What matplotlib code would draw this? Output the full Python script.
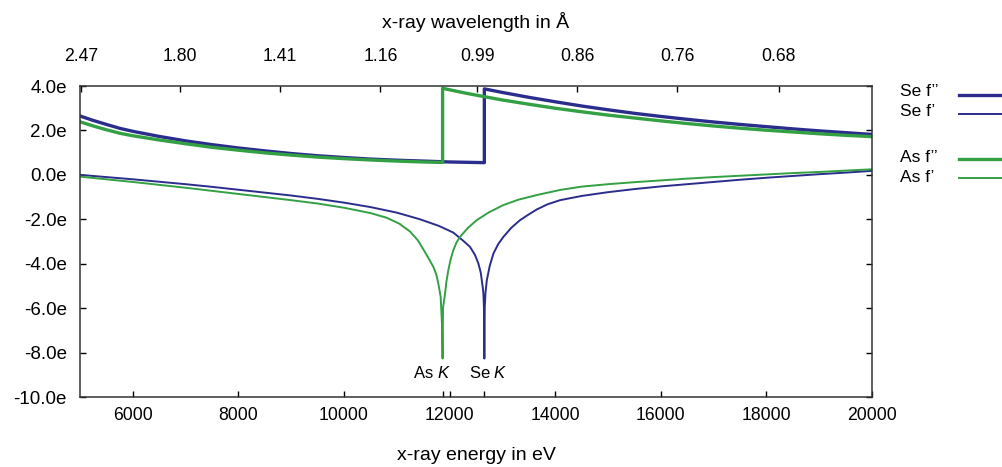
import numpy as np
import matplotlib
matplotlib.use('Agg')
import matplotlib.pyplot as plt
from matplotlib.lines import Line2D

plt.rcParams['font.family'] = ['Liberation Sans', 'DejaVu Sans']
plt.rcParams['mathtext.fontset'] = 'custom'
plt.rcParams['mathtext.rm'] = 'Liberation Sans'
plt.rcParams['mathtext.it'] = 'Liberation Sans:italic'

# K edges (eV)
as_edge = 11867
se_edge = 12658

# Se f'' (electrons)
se_f2_e = [5000, 5250, 5500, 5760, 6000, 6500, 7000, 7500, 8000, 8500, 9000, 9500,
           10000, 10500, 11000, 11500, 12000, 12658,
           12658, 13000, 13500, 14000, 14500, 15000, 15500, 16000, 16500, 17000,
           17500, 18000, 18500, 19000, 19500, 20000]
se_f2 = [2.65, 2.45, 2.27, 2.09, 1.96, 1.73, 1.53, 1.36, 1.21, 1.08, 0.96, 0.86,
         0.78, 0.71, 0.66, 0.62, 0.58, 0.55,
         3.87, 3.71, 3.49, 3.29, 3.10, 2.93, 2.77, 2.63, 2.50, 2.38,
         2.27, 2.17, 2.07, 1.98, 1.90, 1.82]

# As f''
as_f2_e = [5000, 5250, 5500, 5760, 6000, 6500, 7000, 7500, 8000, 8500, 9000, 9500,
           10000, 10500, 11000, 11500, 11867,
           11867, 12000, 12300, 12658, 13000, 13500, 14000, 14500, 15000, 15500,
           16000, 16500, 17000, 17500, 18000, 18500, 19000, 19500, 20000]
as_f2 = [2.39, 2.20, 2.03, 1.87, 1.76, 1.57, 1.40, 1.24, 1.11, 0.99, 0.89, 0.80,
         0.73, 0.67, 0.62, 0.58, 0.56,
         3.90, 3.83, 3.68, 3.52, 3.37, 3.18, 3.00, 2.84, 2.69, 2.56,
         2.43, 2.31, 2.20, 2.10, 2.01, 1.93, 1.85, 1.78, 1.72]

# Se f'
se_f1_e = [5000, 5500, 6000, 6500, 7000, 7500, 8000, 8500, 9000, 9500, 10000, 10500,
           11000, 11439, 11800, 12071, 12250, 12386, 12480, 12545, 12590, 12609,
           12630, 12640, 12650, 12658, 12666, 12680, 12705, 12760, 12830, 12920,
           13019, 13170, 13333, 13500, 13649, 13850, 14091, 14500, 15000, 15500,
           16000, 16500, 17000, 17500, 18000, 18500, 19000, 19500, 20000]
se_f1 = [0.0, -0.1, -0.2, -0.31, -0.42, -0.54, -0.67, -0.8, -0.93, -1.08, -1.25, -1.45,
         -1.7, -2.0, -2.3, -2.6, -2.95, -3.24, -3.6, -3.99, -4.4, -4.74,
         -5.1, -5.34, -5.94, -8.27, -5.94, -5.3, -4.74, -4.1, -3.54, -3.12,
         -2.79, -2.38, -2.04, -1.78, -1.56, -1.33, -1.14, -0.95, -0.78, -0.64,
         -0.52, -0.42, -0.32, -0.22, -0.13, -0.05, 0.03, 0.1, 0.18]

# As f'
as_f1_e = [5000, 5500, 6000, 6500, 7000, 7500, 8000, 8500, 9000, 9500, 10000, 10500,
           10808, 11050, 11250, 11400, 11502, 11600, 11692, 11750, 11786, 11831,
           11855, 11867, 11875, 11914, 11940, 11976, 12020, 12071, 12130, 12197,
           12350, 12513, 12750, 13019, 13300, 13649, 14091, 14500, 15000, 15500,
           16000, 16500, 17000, 17500, 18000, 18500, 19000, 19500, 20000]
as_f1 = [-0.08, -0.2, -0.32, -0.45, -0.58, -0.72, -0.86, -1.0, -1.14, -1.29, -1.48, -1.72,
         -1.93, -2.2, -2.55, -2.95, -3.35, -3.75, -4.14, -4.5, -4.89, -5.49,
         -6.69, -8.27, -6.0, -5.34, -4.8, -4.29, -3.8, -3.39, -3.05, -2.79,
         -2.38, -2.04, -1.68, -1.36, -1.12, -0.91, -0.68, -0.53, -0.42, -0.33,
         -0.25, -0.17, -0.1, -0.04, 0.02, 0.08, 0.13, 0.19, 0.25]

x_ticks = [6000, 8000, 10000, 12000, 14000, 16000, 18000, 20000]
y_ticks = [4, 2, 0, -2, -4, -6, -8, -10]
y_labels = ['4.0e', '2.0e', '0.0e', '-2.0e', '-4.0e', '-6.0e', '-8.0e', '-10.0e']
wl_labels = ['2.47', '1.80', '1.41', '1.16', '0.99', '0.86', '0.76', '0.68']
legend_labels = ['Se f\u2019\u2019', 'Se f\u2019', 'As f\u2019\u2019', 'As f\u2019']

blue = '#2b2d8c'
green = '#33a044'
W, H = 1002, 467

fig = plt.figure(figsize=(W / 100, H / 100), dpi=100)
ax = fig.add_axes([80 / W, 1 - 397 / H, 792 / W, 311 / H])

ax.plot(se_f2_e, se_f2, color=blue, lw=2.4)
ax.plot(as_f2_e, as_f2, color=green, lw=2.4)
ax.plot(se_f1_e, se_f1, color=blue, lw=1.4)
ax.plot(as_f1_e, as_f1, color=green, lw=1.4)

ax.set_xlim(5000, 20000)
ax.set_ylim(-10, 4)

for s in ax.spines.values():
    s.set_linewidth(1.1)
    s.set_color('#333333')

ax.set_xticks(x_ticks + [as_edge, se_edge])
ax.set_xticklabels([str(t) for t in x_ticks] + ['', ''])
ax.set_yticks(y_ticks)
ax.set_yticklabels(y_labels)
ax.tick_params(axis='x', direction='in', length=4, width=1, labelsize=12.7, pad=7)
ax.tick_params(axis='y', direction='in', length=4, width=1, labelsize=13.5, pad=9.5,
               right=True)

top = ax.secondary_xaxis('top')
hc = 12398.4
top.set_xticks([hc / float(w) for w in wl_labels])
top.set_xticklabels(wl_labels)
top.tick_params(direction='in', length=4, width=1, labelsize=12.7, pad=15)
top.spines['top'].set_visible(False)

fig.text(476 / W, 1 - 455 / H, 'x-ray energy in eV', fontsize=14,
         ha='center', va='center')
fig.text(476 / W, 1 - 22 / H, 'x-ray wavelength in Å', fontsize=14,
         ha='center', va='center')

ax.text(11660, -8.9, 'As $K$', ha='center', va='center', fontsize=12)
ax.text(12740, -8.9, 'Se $K$', ha='center', va='center', fontsize=12)

# legend drawn by hand: text on the left, sample line on the right
leg_styles = [(blue, 2.4), (blue, 1.4), (green, 2.4), (green, 1.4)]
leg_text_y = [92, 112, 158, 177]
leg_line_y = [95, 114, 159, 178]
for lab, (c, lw), ty, ly in zip(legend_labels, leg_styles, leg_text_y, leg_line_y):
    fig.text(900 / W, 1 - ty / H, lab, fontsize=12.5, ha='left', va='center')
    fig.add_artist(Line2D([959 / W, 1.0], [1 - ly / H, 1 - ly / H],
                          transform=fig.transFigure, color=c, lw=lw))

fig.savefig('out.png', dpi=100)
